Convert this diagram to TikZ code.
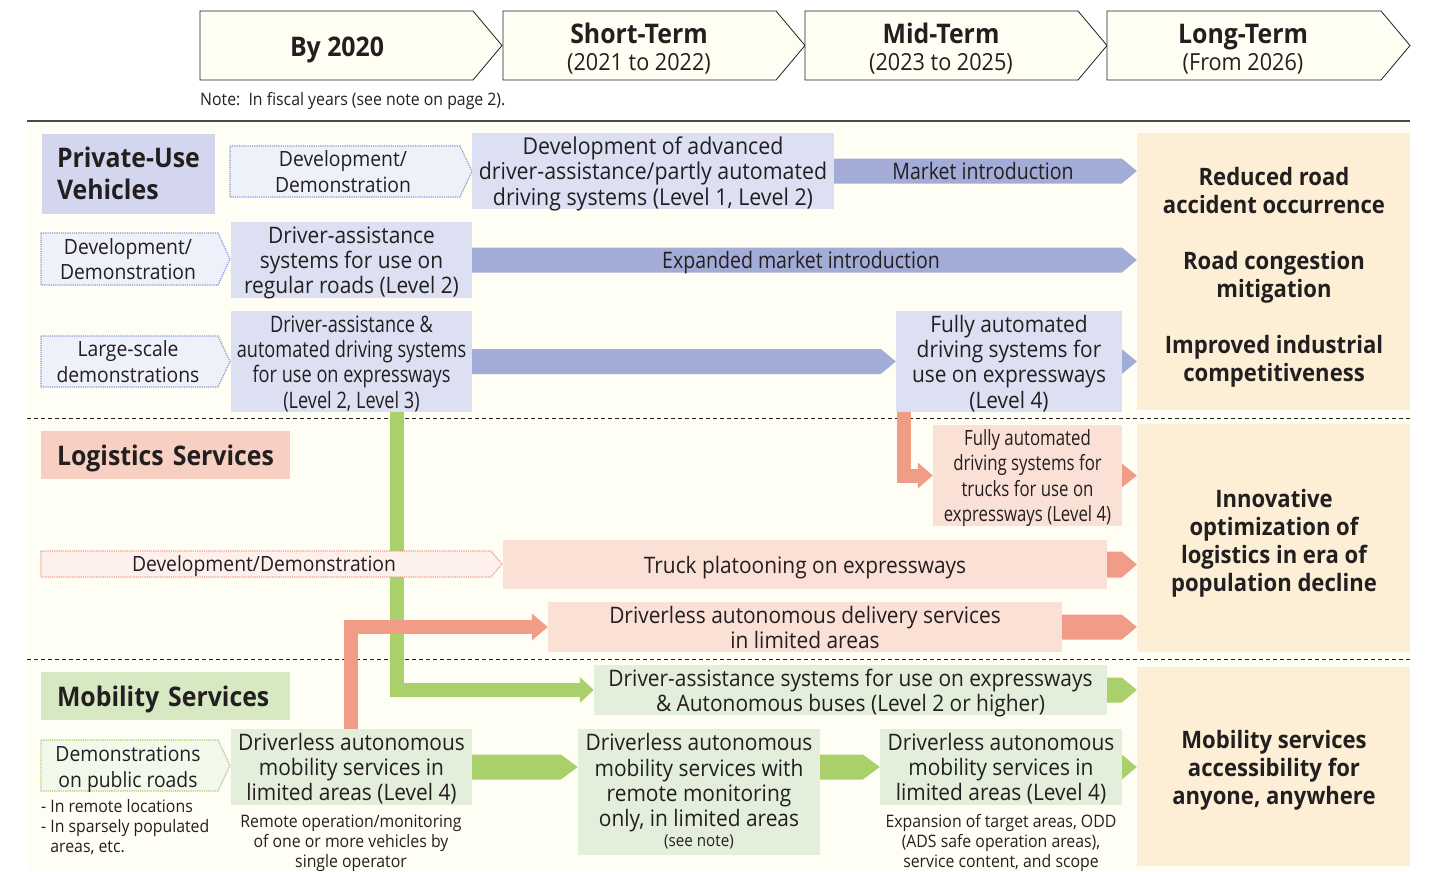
\documentclass[tikz,border=0pt]{standalone}
\usepackage{fontspec}
\setmainfont{Open Sans}[FakeStretch=0.92]
\newfontfamily\cnd{Open Sans}[FakeStretch=0.86]
\newfontfamily\cndd{Open Sans}[FakeStretch=0.80]
\usetikzlibrary{calc,arrows.meta}

\definecolor{ink}{HTML}{231F20}
\definecolor{paper}{HTML}{FFFEF4}
\definecolor{headfill}{HTML}{FFFEF3}
\definecolor{rule}{HTML}{4D4A48}
\definecolor{pvLab}{HTML}{D3D6EE}
\definecolor{pvBox}{HTML}{DCE0F2}
\definecolor{pvDot}{HTML}{EEF0FA}
\definecolor{pvLine}{HTML}{8E98D6}
\definecolor{pvArr}{HTML}{A3ABD7}
\definecolor{lgLab}{HTML}{F7CFC3}
\definecolor{lgBox}{HTML}{FBE0D6}
\definecolor{lgDot}{HTML}{FEF0EC}
\definecolor{lgLine}{HTML}{F19C87}
\definecolor{lgArr}{HTML}{F19C87}
\definecolor{mbLab}{HTML}{D7E9C3}
\definecolor{mbBox}{HTML}{E3EFDA}
\definecolor{mbDot}{HTML}{F2F8EA}
\definecolor{mbLine}{HTML}{A9D06A}
\definecolor{mbArr}{HTML}{A9D06A}
\definecolor{goal}{HTML}{FDEFD6}

% pointed bar between two points on one level: colour, from, to, half height, tip length
\newcommand\pbar[5]{%
  \fill[#1] ($(#2)+(0,-#4)$) -- ($(#3)+(-#5,-#4)$) -- (#3) -- ($(#3)+(-#5,#4)$) -- ($(#2)+(0,#4)$) -- cycle;}
% chevron outline: style, x1, x2, y1, y2, tip length
\newcommand\chev[6]{%
  \path[#1] (#2,#4) -- ({#3-#6},#4) -- (#3,{(#4+#5)/2}) -- ({#3-#6},#5) -- (#2,#5) -- cycle;}
% strut for the first line of a multi-line label
\newcommand\fl{\rule{0pt}{1.02em}}

\begin{document}
\begin{tikzpicture}[x=1pt,y=-1pt,
  every node/.style={text=ink,inner sep=0pt,align=center,
    execute at begin node={\rule{0pt}{1em}},
    execute at end node={\rule[-0.25em]{0pt}{0pt}}},
  blk/.style={rectangle,inner xsep=0pt,inner ysep=-6pt,align=center},
  ttl/.style={font=\fontsize{27}{30}\selectfont\bfseries},
  sub/.style={font=\fontsize{23.5}{26}\selectfont},
  lab/.style={font=\fontsize{27}{32}\selectfont\bfseries},
  txt/.style={font=\fontsize{22.7}{25.2}\selectfont},
  ctxt/.style={font=\cnd\fontsize{22.7}{25.2}\selectfont},
  cctxt/.style={font=\cndd\fontsize{22.7}{25.2}\selectfont},
  dtxt/.style={font=\fontsize{21}{25.5}\selectfont},
  goaltxt/.style={font=\fontsize{24}{28}\selectfont\bfseries},
  small/.style={font=\fontsize{17.2}{20.3}\selectfont},
  pvdots/.style={fill=pvDot,draw=pvLine,line width=1.2pt,densely dotted},
  lgdots/.style={fill=lgDot,draw=lgLine,line width=1.2pt,densely dotted},
  mbdots/.style={fill=mbDot,draw=mbLine,line width=1.2pt,densely dotted},
  headshape/.style={fill=headfill,draw=ink,line width=0.8pt}]
\useasboundingbox (0,0) rectangle (1429,871);
\fill[white] (0,0) rectangle (1429,871);

% ---- time axis ----
\chev{headshape}{200}{502}{11}{80}{29}
\chev{headshape}{503}{805}{11}{80}{29}
\chev{headshape}{805}{1107}{11}{80}{29}
\chev{headshape}{1107}{1410}{11}{80}{29}
\node[ttl] (t0) at (337,46) {By 2020};
\node[ttl] (t1) at (639,33) {Short-Term};
\node[sub] (t1s) at (639,61.5) {(2021 to 2022)};
\node[ttl] (t2) at (941,33) {Mid-Term};
\node[sub] (t2s) at (941,61.5) {(2023 to 2025)};
\node[ttl] (t3) at (1243,33) {Long-Term};
\node[sub] (t3s) at (1243,61.5) {(From 2026)};
\node[small,anchor=west] (note) at (200,99) {Note:\ \ In fiscal years (see note on page 2).};

% ---- panel ----
\fill[paper] (27,122) rectangle (1410,871);
\draw[rule,line width=1.6pt] (27,121) -- (1410,121);
\draw[ink,line width=0.9pt,dash pattern=on 4pt off 3pt] (27,418) -- (1410,418);
\draw[ink,line width=0.9pt,dash pattern=on 4pt off 3pt] (27,659) -- (1410,659);

% ---- goals ----
\node[blk,fill=goal,minimum width=273pt,minimum height=277pt] (g1) at (1273.5,271.5) {};
\node[blk,fill=goal,minimum width=273pt,minimum height=228pt] (g2) at (1273.5,538) {};
\node[blk,fill=goal,minimum width=273pt,minimum height=199pt] (g3) at (1273.5,766.5) {};
\node[goaltxt] (g1a) at (1274,190) {\fl Reduced road\\accident occurrence};
\node[goaltxt] (g1b) at (1274,274) {\fl Road congestion\\mitigation};
\node[goaltxt] (g1c) at (1274,358) {\fl Improved industrial\\competitiveness};
\node[goaltxt] (g2t) at (1274,540) {\fl Innovative\\optimization of\\logistics in era of\\population decline};
\node[goaltxt] (g3t) at (1274,767) {\fl Mobility services\\accessibility for\\anyone, anywhere};

% ---- section labels ----
\node[blk,lab,fill=pvLab,minimum width=173pt,minimum height=80pt,text width=143pt,align=left] (pvl) at (128.5,173.5) {Private-Use\\Vehicles};
\node[blk,lab,fill=lgLab,minimum width=249pt,minimum height=48pt,text width=217pt,align=left] (lgl) at (165.5,455) {Logistics Services};
\node[blk,lab,fill=mbLab,minimum width=249pt,minimum height=48pt,text width=217pt,align=left] (mbl) at (165.5,696) {Mobility Services};

% ---- private-use vehicles ----
\chev{pvdots}{230}{472}{146}{197}{12}
\node[dtxt] (pd1) at (343,171.5) {\fl Development/\\Demonstration};
\chev{pvdots}{41}{230}{233}{285}{12}
\node[dtxt] (pd2) at (128,259) {\fl Development/\\Demonstration};
\chev{pvdots}{41}{230}{336}{387}{12}
\node[dtxt] (pd3) at (128,361.5) {\fl Large-scale\\demonstrations};

\node[blk,font=\fontsize{23.2}{25.2}\selectfont,fill=pvBox,minimum width=362pt,minimum height=76pt] (adas) at (653,171)
  {\fl Development of advanced\\driver-assistance/partly automated\\driving systems (Level 1, Level 2)};
\node[blk,txt,fill=pvBox,minimum width=241pt,minimum height=76pt] (reg) at (351.5,260)
  {\fl Driver-assistance\\systems for use on\\regular roads (Level 2)};
\node[blk,cctxt,fill=pvBox,minimum width=241pt,minimum height=101pt] (exp) at (351.5,361.5)
  {\fl Driver-assistance \&\\automated driving systems\\for use on expressways\\(Level 2, Level 3)};
\node[blk,txt,fill=pvBox,minimum width=226pt,minimum height=101pt] (fa) at (1009,361.5)
  {\fl Fully automated\\driving systems for\\use on expressways\\(Level 4)};

\pbar{pvArr}{adas.east}{g1.west |- adas.east}{12.5}{15}
\node[ctxt] (mi) at (983,171) {Market introduction};
\pbar{pvArr}{reg.east}{g1.west |- reg.east}{12.5}{15}
\node[ctxt] (emi) at (801,260) {Expanded market introduction};
\pbar{pvArr}{exp.east}{fa.west}{12.5}{15}
\pbar{pvArr}{fa.east}{g1.west |- fa.east}{12.5}{15}

% ---- logistics services ----
\node[blk,font=\cndd\fontsize{21}{25.5}\selectfont,fill=lgBox,minimum width=189pt,minimum height=101pt] (ftr) at (1027.5,475.5)
  {\fl Fully automated\\driving systems for\\trucks for use on\\expressways (Level 4)};
\node[blk,txt,fill=lgBox,minimum width=604pt,minimum height=49pt] (plt) at (805,564.5)
  {Truck platooning on expressways};
\node[blk,txt,fill=lgBox,minimum width=514pt,minimum height=50pt] (dlv) at (805,627)
  {\fl Driverless autonomous delivery services\\in limited areas};

% ---- mobility services ----
\node[blk,txt,fill=mbBox,minimum width=513pt,minimum height=50pt] (bus) at (850.5,690)
  {\fl Driver-assistance systems for use on expressways\\\& Autonomous buses (Level 2 or higher)};
\node[blk,txt,fill=mbBox,minimum width=241pt,minimum height=76pt] (m1) at (351.5,767)
  {\fl Driverless autonomous\\mobility services in\\limited areas (Level 4)};
\node[blk,fill=mbBox,minimum width=242pt,minimum height=126pt] (m2) at (699,792) {};
\node[txt] (m2t) at (699,780)
  {\fl Driverless autonomous\\mobility services with\\remote monitoring\\only, in limited areas};
\node[font=\fontsize{16.5}{18}\selectfont] (m2n) at (699,840) {(see note)};
\node[blk,txt,fill=mbBox,minimum width=242pt,minimum height=76pt] (m3) at (1001,767)
  {\fl Driverless autonomous\\mobility services in\\limited areas (Level 4)};

\chev{mbdots}{41}{230}{740}{791}{12}
\node[dtxt] (md) at (128,766.5) {\fl Demonstrations\\on public roads};
\node[small,anchor=north west,align=left] (mdn) at (41,799)
  {- In remote locations\\- In sparsely populated\\\phantom{- }areas, etc.};
\node[small] (m1c) at (351,841) {\fl Remote operation/monitoring\\of one or more vehicles by\\single operator};
\node[small] (m3c) at (1001,841) {\fl Expansion of target areas, ODD\\(ADS safe operation areas),\\service content, and scope};

% links from private-use vehicles down to other services
\coordinate (gx) at (397,0);
\draw[mbArr,line width=14pt,-{Triangle[width=25pt,length=14pt]}] (gx |- exp.south) |- (bus.west);

\chev{lgdots}{41}{502}{551}{577}{11}
\node[dtxt] (ld) at (264,564) {Development/Demonstration};

\coordinate (sx) at (350.5,0);
\draw[lgArr,line width=14pt,-{Triangle[width=26pt,length=16pt]}] (sx |- m1.north) |- (dlv.west);
\coordinate (tx) at (903.5,0);
\draw[lgArr,line width=14pt,-{Triangle[width=25pt,length=15pt]}] (tx |- fa.south) |- (ftr.west);

\pbar{lgArr}{ftr.east}{g2.west |- ftr.east}{12}{15}
\pbar{lgArr}{plt.east}{g2.west |- plt.east}{13}{15}
\pbar{lgArr}{dlv.east}{g2.west |- dlv.east}{12.5}{15}

\pbar{mbArr}{bus.east}{g3.west |- bus.east}{12.5}{15}
\pbar{mbArr}{m1.east}{m2.west |- m1.east}{12.5}{17}
\pbar{mbArr}{m2.east |- m3.west}{m3.west}{12.5}{17}
\pbar{mbArr}{m3.east}{g3.west |- m3.east}{12.5}{15}
\end{tikzpicture}
\end{document}
